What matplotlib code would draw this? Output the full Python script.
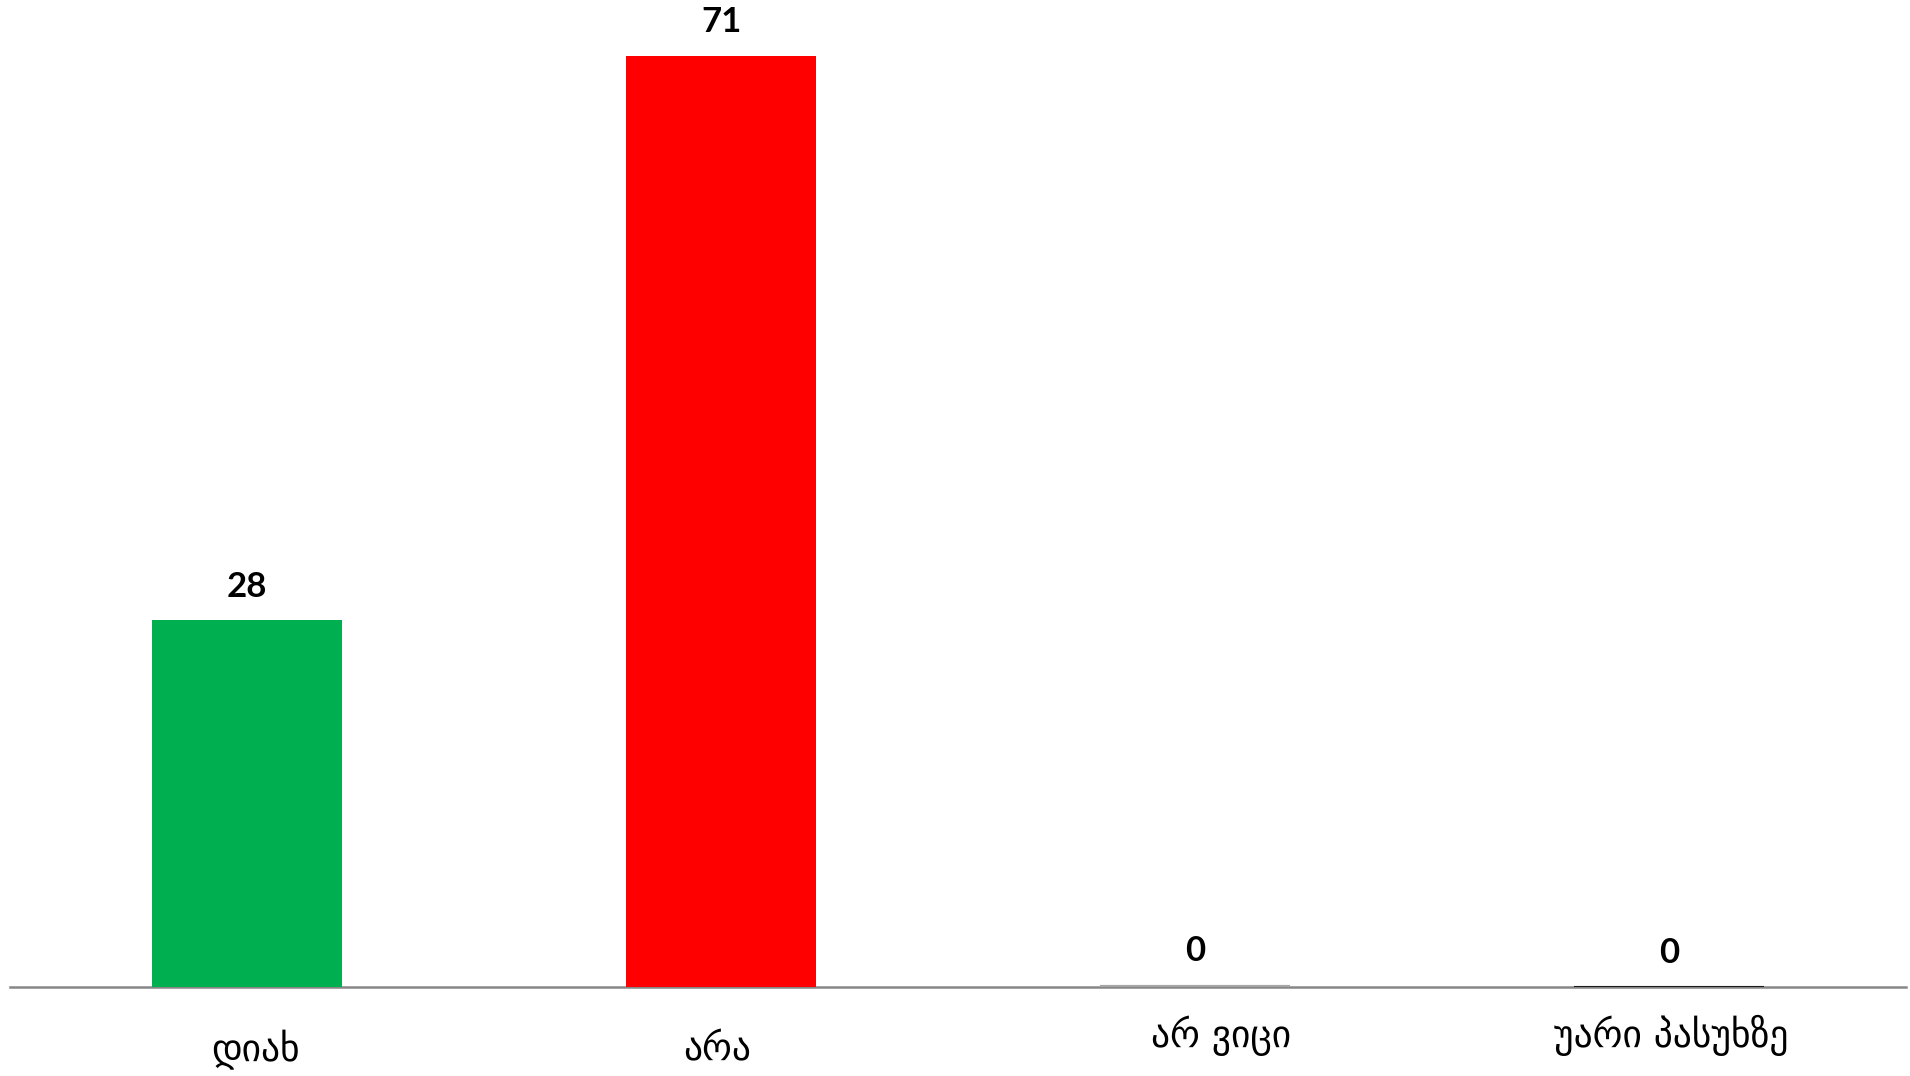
import matplotlib.pyplot as plt
from matplotlib.transforms import blended_transform_factory

categories = ['დიახ', 'არა', 'არ ვიცი', 'უარი პასუხზე']
values = [28, 71, 0, 0]
colors = ['#00B050', '#FF0000', '#A5A5A5', '#1a1a1a']
label_y = [-0.064, -0.064, -0.049, -0.049]  # axes fraction, as in the original
label_dx = [0.018, -0.008, 0.056, 0.005]  # small shifts of the category labels
value_pad = [33, 34, 36, 34]  # pixels above bar top

fig = plt.figure(figsize=(19.1, 10.76), dpi=100)
ax = fig.add_axes([10 / 1910, 1 - 987 / 1076, 1896 / 1910, 987 / 1076])

x = range(len(categories))
bars = ax.bar(x, values, width=0.4, color=colors, edgecolor=colors,
              linewidth=[0, 0, 3, 1.5], zorder=3)

ax.set_xlim(-0.5, len(categories) - 0.5)
ax.set_ylim(0, 75.3)

for s in ['top', 'right', 'left']:
    ax.spines[s].set_visible(False)
ax.spines['bottom'].set_color('#868686')
ax.spines['bottom'].set_linewidth(1.8)
ax.set_yticks([])
ax.set_xticks([])

for b, v, pad in zip(bars, values, value_pad):
    ax.annotate(str(v), (b.get_x() + b.get_width() / 2, v), xytext=(0, pad * 0.72),
                textcoords='offset points', ha='center', va='center',
                fontsize=25, fontweight='bold', family=['Lato', 'DejaVu Sans'])

trans = blended_transform_factory(ax.transData, ax.transAxes)
for i, (c, y, dx) in enumerate(zip(categories, label_y, label_dx)):
    ax.text(i + dx, y, c, transform=trans, ha='center', va='center',
            fontsize=27, family=['DejaVu Sans'])

fig.savefig('out.png', dpi=100)
